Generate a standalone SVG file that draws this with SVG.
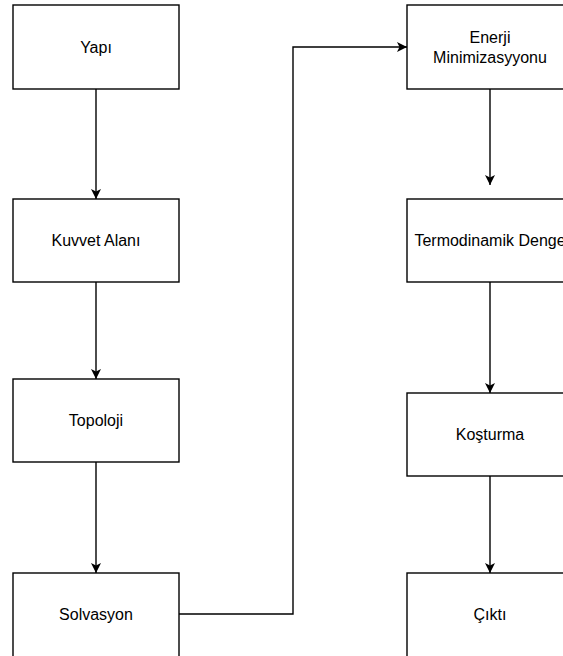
<svg xmlns="http://www.w3.org/2000/svg" width="563" height="656" viewBox="0 0 563 656">
<style>
.box{fill:#fff;stroke:#000;stroke-width:1.4}
.lbl{font-family:"Liberation Sans",Arial,sans-serif;font-size:16px;fill:#000;text-anchor:middle}
.con{fill:none;stroke:#000;stroke-width:1.4}
</style>
<defs>
<marker id="arr" viewBox="0 0 10 10" refX="10" refY="5" markerWidth="10" markerHeight="10" markerUnits="userSpaceOnUse" orient="auto">
<path d="M0,0 L10,5 L0,10 L2.5,5 Z" fill="#000"/>
</marker>
</defs>
<rect width="563" height="656" fill="#fff"/>
<g id="connectors">
<path class="con" d="M96,89 V199" marker-end="url(#arr)"/>
<path class="con" d="M96,282 V379" marker-end="url(#arr)"/>
<path class="con" d="M96,462 V573" marker-end="url(#arr)"/>
<path class="con" d="M179,614 H293 V47 H407" marker-end="url(#arr)"/>
<path class="con" d="M490,89 V185" marker-end="url(#arr)"/>
<path class="con" d="M490,282 V393" marker-end="url(#arr)"/>
<path class="con" d="M490,476 V573" marker-end="url(#arr)"/>
</g>
<g id="yapi"><rect class="box" x="13" y="5" width="166" height="84"/><text class="lbl" x="96" y="52.5">Yapı</text></g>
<g id="kuvvet"><rect class="box" x="13" y="199" width="166" height="83"/><text class="lbl" x="96" y="246">Kuvvet Alanı</text></g>
<g id="topoloji"><rect class="box" x="13" y="379" width="166" height="83"/><text class="lbl" x="96" y="426">Topoloji</text></g>
<g id="solvasyon"><rect class="box" x="13" y="573" width="166" height="84"/><text class="lbl" x="96" y="620">Solvasyon</text></g>
<g id="enerji"><rect class="box" x="407" y="5" width="166" height="84"/><text class="lbl" x="490" y="43">Enerji</text><text class="lbl" x="490" y="63">Minimizasyyonu</text></g>
<g id="termo"><rect class="box" x="407" y="199" width="166" height="83"/><text class="lbl" x="490" y="246">Termodinamik Denge</text></g>
<g id="kosturma"><rect class="box" x="407" y="393" width="166" height="83"/><text class="lbl" x="490" y="440">Koşturma</text></g>
<g id="cikti"><rect class="box" x="407" y="573" width="166" height="84"/><text class="lbl" x="490" y="620">Çıktı</text></g>
</svg>
